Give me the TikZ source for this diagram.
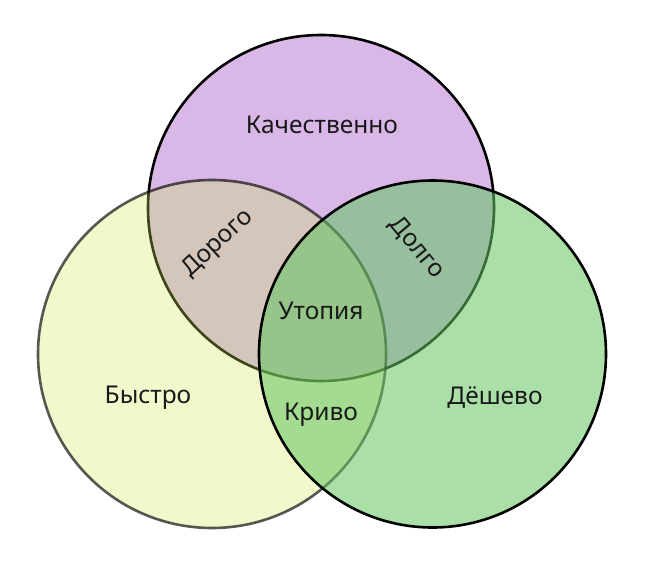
\documentclass[tikz,border=0pt]{standalone}
\usepackage{fontspec}
\setmainfont{Noto Sans}
\definecolor{purp}{HTML}{D9B8E8}
\definecolor{yel}{HTML}{CDE855}
\definecolor{grn}{HTML}{64C561}
\begin{document}
\begin{tikzpicture}[x=1pt,y=-1pt,
  lbl/.style={font=\fontsize{24.5}{28}\selectfont, inner sep=0pt, text=black!90}]
\useasboundingbox (0,0) rectangle (654,562);
% top circle
\draw[line width=2.6pt, fill=purp] (321,208) circle (173);
% left circle
\draw[line width=2.6pt, fill=yel, fill opacity=0.3, draw opacity=0.65] (212,354) circle (174);
% right circle
\draw[line width=2.6pt, fill=grn, fill opacity=0.55] (432.5,354) circle (173.5);
\node[lbl] (q) at (322,125) {Качественно};
\node[lbl, rotate=43] (d) at (218,244) {Дорого};
\node[lbl, rotate=-50] (l) at (417,248) {Долго};
\node[lbl] (u) at (321,311) {Утопия};
\node[lbl] (k) at (321,415) {Криво};
\node[lbl] (b) at (148,398) {Быстро};
\node[lbl] (ch) at (495,398) {Дёшево};
\end{tikzpicture}
\end{document}
